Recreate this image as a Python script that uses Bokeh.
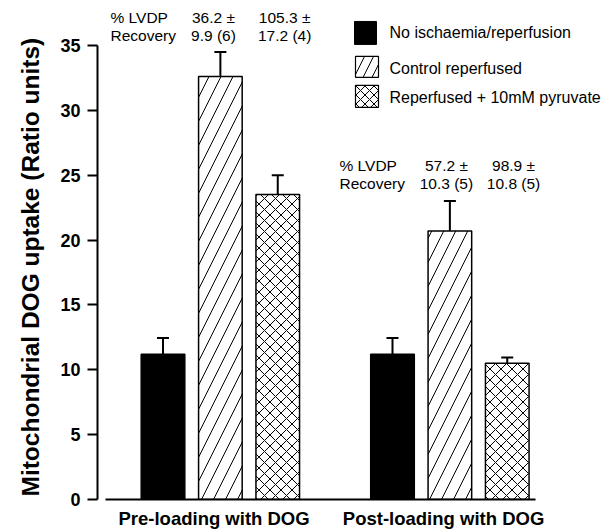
from bokeh.plotting import figure
from bokeh.models import (ColumnDataSource, Whisker, TeeHead, FixedTicker, Label, LabelSet, Range1d, Title)
from bokeh.core.properties import value
from bokeh.embed import file_html
from bokeh.resources import INLINE

# ---- data ----
groups = ["Pre-loading with DOG", "Post-loading with DOG"]
series = ["No ischaemia/reperfusion", "Control reperfused", "Reperfused + 10mM pyruvate"]
no_isch = [11.2, 11.2]
no_isch_err = [1.25, 1.25]
control = [32.6, 20.7]
control_err = [1.9, 2.3]
pyruvate = [23.5, 10.5]
pyruvate_err = [1.5, 0.45]
recovery_mean = ["36.2", "105.3", "57.2", "98.9"]
recovery_sem = ["9.9", "17.2", "10.3", "10.8"]
recovery_n = [6, 4, 5, 5]
y_ticks = [0, 5, 10, 15, 20, 25, 30, 35]

FONT = "Liberation Sans"

# page-pixel -> data helpers (layout only)
X1, SX = 162.5, 57.375
def dx(px):
    return 1 + (px - X1) / SX
def dy(py):
    return (500 - py) / 13.0

p = figure(width=613, height=531, output_backend="svg", toolbar_location=None,
           x_range=Range1d(dx(97), dx(613)), y_range=Range1d(0, dy(0)),
           min_border_left=97, min_border_right=0, min_border_top=0, min_border_bottom=31)
p.outline_line_color = None
p.xgrid.visible = False
p.ygrid.visible = False
p.background_fill_color = "white"

# group positions
g_centers = [2, 6]
pos_a = [c - 1 for c in g_centers]
pos_b = [c for c in g_centers]
pos_c = [c + 1 for c in g_centers]
W = 0.76

src_a = ColumnDataSource(dict(x=pos_a, top=no_isch, up=[v + e for v, e in zip(no_isch, no_isch_err)]))
src_b = ColumnDataSource(dict(x=pos_b, top=control, up=[v + e for v, e in zip(control, control_err)]))
src_c = ColumnDataSource(dict(x=pos_c, top=pyruvate, up=[v + e for v, e in zip(pyruvate, pyruvate_err)]))

for src in (src_a, src_b, src_c):
    p.add_layout(Whisker(source=src, base="x", lower="top", upper="up", dimension="height",
                         line_width=2, line_color="black",
                         upper_head=TeeHead(size=12, line_width=2, line_color="black"),
                         lower_head=None))

p.vbar(x="x", top="top", width=W, source=src_a, fill_color="black", line_color="black", line_width=1.5)
p.vbar(x="x", top="top", width=W, source=src_b, fill_color="white", line_color="black", line_width=1.5,
       hatch_pattern="/", hatch_color="black", hatch_weight=1, hatch_scale=24)
p.vbar(x="x", top="top", width=W, source=src_c, fill_color="white", line_color="black", line_width=1.5,
       hatch_pattern="x", hatch_color="black", hatch_weight=1, hatch_scale=11)

# axes
p.yaxis.ticker = FixedTicker(ticks=y_ticks)
p.yaxis.bounds = (0, 35)
p.yaxis.axis_line_width = 2
p.yaxis.major_tick_line_width = 2
p.yaxis.major_tick_out = 10
p.yaxis.major_tick_in = 0
p.yaxis.minor_tick_out = 0
p.yaxis.minor_tick_in = 0
p.yaxis.major_label_standoff = 7
p.yaxis.major_label_text_font = FONT
p.yaxis.major_label_text_font_style = "bold"
p.yaxis.major_label_text_font_size = "18px"
p.yaxis.major_label_text_color = "black"

p.xaxis.ticker = FixedTicker(ticks=[c - 0.11 for c in g_centers])
p.xaxis.major_label_overrides = {c - 0.11: g for c, g in zip(g_centers, groups)}
p.xaxis.bounds = (0, 7.5)
p.xaxis.axis_line_width = 2
p.xaxis.major_tick_out = 0
p.xaxis.major_tick_in = 0
p.xaxis.minor_tick_out = 0
p.xaxis.minor_tick_in = 0
p.xaxis.major_label_standoff = 8
p.xaxis.major_label_text_font = FONT
p.xaxis.major_label_text_font_style = "bold"
p.xaxis.major_label_text_font_size = "18.5px"
p.xaxis.major_label_text_color = "black"

# y axis title as a side title
p.add_layout(Title(text="Mitochondrial DOG uptake (Ratio units)", align="left", offset=3,
                   text_font=FONT, text_font_style="bold", text_font_size="24.5px",
                   text_color="black", standoff=27), "left")

# % LVDP recovery annotations
rec_x = [pos_b[0] - 0.12, pos_c[0] + 0.12, pos_b[1] - 0.06, pos_c[1] + 0.11]
rec_y1 = [dy(17), dy(17), dy(165), dy(165)]
rec_y2 = [dy(35), dy(35), dy(183), dy(183)]
line1 = [m + " \u00b1" for m in recovery_mean]
line2 = [s + " (" + str(n) + ")" for s, n in zip(recovery_sem, recovery_n)]
rec_src = ColumnDataSource(dict(x=rec_x, y1=rec_y1, y2=rec_y2, t1=line1, t2=line2))
for yk, tk in (("y1", "t1"), ("y2", "t2")):
    p.add_layout(LabelSet(x="x", y=yk, text=tk, source=rec_src, text_align="center", text_baseline="middle",
                          text_font=value(FONT), text_font_size=value("15.5px"), text_color="black"))
for lx, ly in ((110, 17), (339, 165)):
    p.add_layout(Label(x=dx(lx), y=dy(ly), text="% LVDP", text_align="left", text_baseline="middle",
                       text_font=FONT, text_font_size="15.5px", text_color="black"))
    p.add_layout(Label(x=dx(lx), y=dy(ly + 18), text="Recovery", text_align="left", text_baseline="middle",
                       text_font=FONT, text_font_size="15.5px", text_color="black"))

# legend (manual)
p.quad(left=[dx(354)], right=[dx(376)], top=[dy(21)], bottom=[dy(44)], fill_color="black", line_color="black")
p.quad(left=[dx(355)], right=[dx(378)], top=[dy(56)], bottom=[dy(77)], fill_color="white", line_color="black",
       line_width=1.2, hatch_pattern="/", hatch_color="black", hatch_weight=1, hatch_scale=18)
p.quad(left=[dx(355)], right=[dx(378)], top=[dy(85)], bottom=[dy(107)], fill_color="white", line_color="black",
       line_width=1.2, hatch_pattern="x", hatch_color="black", hatch_weight=1, hatch_scale=9)
for s, ly in zip(series, (32, 68, 97)):
    p.add_layout(Label(x=dx(389), y=dy(ly), text=s, text_align="left", text_baseline="middle",
                       text_font=FONT, text_font_size="16px", text_color="black"))

open("out.html", "w").write(file_html(p, INLINE))
